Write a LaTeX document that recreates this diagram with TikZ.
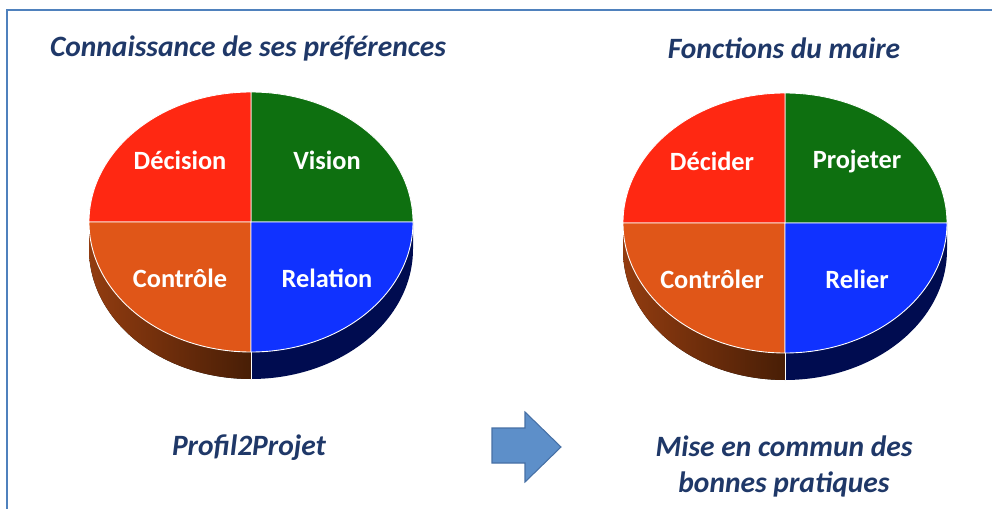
\documentclass[tikz,border=0pt]{standalone}
\usepackage{fontspec}
\setmainfont{Carlito}
\definecolor{bleunuit}{RGB}{31,56,104}
\definecolor{cadre}{RGB}{79,129,189}
\definecolor{rouge}{RGB}{255,40,18}
\definecolor{vert}{RGB}{14,112,16}
\definecolor{orange}{RGB}{224,86,24}
\definecolor{bleu}{RGB}{16,50,255}
\definecolor{brunclair}{RGB}{146,60,16}
\definecolor{brunfonce}{RGB}{72,30,6}
\definecolor{marine}{RGB}{0,12,80}
\definecolor{flechebleu}{RGB}{93,143,201}
\definecolor{flechebord}{RGB}{70,112,165}
\newcommand{\camembert}[2]{%
  \fill[left color=brunclair, right color=brunfonce]
    (#1-162,#2) -- (#1-162,#2-27)
    arc[start angle=180,end angle=270,x radius=162,y radius=130]
    -- (#1,#2-130)
    arc[start angle=270,end angle=180,x radius=162,y radius=130] -- cycle;
  \fill[marine]
    (#1,#2-130) -- (#1,#2-157)
    arc[start angle=270,end angle=360,x radius=162,y radius=130]
    -- (#1+162,#2)
    arc[start angle=0,end angle=-90,x radius=162,y radius=130] -- cycle;
  \draw[white, line width=0.4pt] (#1,#2-130) -- (#1,#2-157);
  \filldraw[quartier, fill=vert] (#1,#2) -- (#1+162,#2)
    arc[start angle=0,end angle=90,x radius=162,y radius=130] -- cycle;
  \filldraw[quartier, fill=rouge] (#1,#2) -- (#1,#2+130)
    arc[start angle=90,end angle=180,x radius=162,y radius=130] -- cycle;
  \filldraw[quartier, fill=orange] (#1,#2) -- (#1-162,#2)
    arc[start angle=180,end angle=270,x radius=162,y radius=130] -- cycle;
  \filldraw[quartier, fill=bleu] (#1,#2) -- (#1,#2-130)
    arc[start angle=270,end angle=360,x radius=162,y radius=130] -- cycle;
}

\begin{document}
\begin{tikzpicture}[x=0.02cm,y=0.02cm,
	titre/.style={font=\fontsize{16.8}{20.5}\selectfont\bfseries\itshape, text=bleunuit, align=center},
	etiquette/.style={font=\fontsize{15}{17}\selectfont\bfseries, text=white},
	quartier/.style={draw=white, line width=0.5pt}]
	\useasboundingbox (0,0) rectangle (992,508);
	\draw[cadre, line width=1.1pt] (7,-5) -- (7,498) -- (1000,498);

	\node[titre] (titregauche) at (248,460) {Connaissance de ses préférences};
	\camembert{251}{286}
	\node[etiquette] (decision) at (180,348) {Décision};
	\node[etiquette] (vision) at (327,348) {Vision};
	\node[etiquette] (controle) at (180,230) {Contrôle};
	\node[etiquette] (relation) at (327,230) {Relation};
	\node[titre] (profil) at (249,60) {Profil2Projet};

	\node[titre] (titredroite) at (784,460) {Fonctions du maire};
	\camembert{785}{285}
	\node[etiquette] (decider) at (712,347) {Décider};
	\node[etiquette] (projeter) at (857,347) {Projeter};
	\node[etiquette] (controler) at (712,229) {Contrôler};
	\node[etiquette] (relier) at (857,229) {Relier};
	\node[titre] (commun) at (784,42) {Mise en commun des\\bonnes pratiques};

	\filldraw[fill=flechebleu, draw=flechebord, line width=0.6pt]
		(492,80) -- (525,80) -- (525,96) -- (561,61) -- (525,26) -- (525,45) -- (492,45) -- cycle;
\end{tikzpicture}
\end{document}
